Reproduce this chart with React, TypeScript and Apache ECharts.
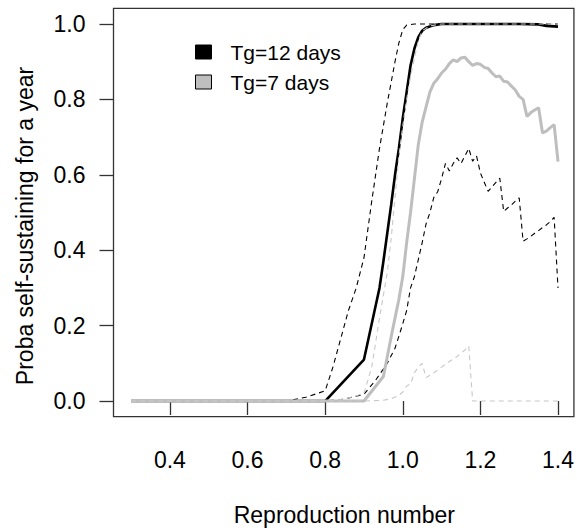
import React, { useEffect, useRef } from "react";
import * as echarts from "echarts";

// Reproduction number vs probability of self-sustaining for a year
const tg12Mean: [number, number][] = [
  [0.3, 0], [0.4, 0], [0.5, 0], [0.6, 0], [0.7, 0], [0.8, 0], [0.9, 0.11],
  [0.94, 0.3], [0.95, 0.37], [0.96, 0.445], [0.97, 0.52], [0.98, 0.6], [0.99, 0.67],
  [1.0, 0.75], [1.01, 0.82], [1.02, 0.89], [1.03, 0.935], [1.04, 0.965], [1.05, 0.982],
  [1.06, 0.99], [1.08, 0.997], [1.1, 1.0], [1.2, 1.0], [1.3, 1.0], [1.35, 0.999],
  [1.37, 0.995], [1.4, 0.993],
];
const tg12Upper: [number, number][] = [
  [0.3, 0], [0.7, 0], [0.75, 0.01], [0.8, 0.027], [0.82, 0.09], [0.84, 0.165],
  [0.86, 0.24], [0.88, 0.3], [0.9, 0.38], [0.92, 0.53], [0.94, 0.67], [0.96, 0.79],
  [0.98, 0.9], [0.99, 0.95], [1.0, 0.985], [1.01, 0.997], [1.03, 1.0], [1.4, 1.0],
];
const tg12Lower: [number, number][] = [
  [0.3, 0], [0.8, 0], [0.85, 0.005], [0.9, 0.018], [0.93, 0.055], [0.96, 0.1],
  [0.98, 0.14], [0.99, 0.172], [1.0, 0.205], [1.01, 0.24], [1.02, 0.3], [1.03, 0.33],
  [1.04, 0.375], [1.05, 0.42], [1.06, 0.47], [1.07, 0.5], [1.08, 0.54], [1.09, 0.555],
  [1.1, 0.59], [1.11, 0.63], [1.12, 0.61], [1.13, 0.63], [1.14, 0.645], [1.15, 0.63],
  [1.16, 0.65], [1.17, 0.67], [1.18, 0.636], [1.19, 0.65], [1.2, 0.605], [1.21, 0.58],
  [1.22, 0.556], [1.23, 0.568], [1.24, 0.58], [1.25, 0.591], [1.26, 0.503], [1.27, 0.512],
  [1.28, 0.52], [1.29, 0.53], [1.3, 0.539], [1.31, 0.424], [1.32, 0.43], [1.33, 0.437],
  [1.34, 0.445], [1.35, 0.452], [1.36, 0.46], [1.37, 0.467], [1.38, 0.476], [1.39, 0.487],
  [1.4, 0.3],
];
const tg7Mean: [number, number][] = [
  [0.3, 0], [0.4, 0], [0.5, 0], [0.6, 0], [0.7, 0], [0.8, 0], [0.9, 0], [0.95, 0.065],
  [0.97, 0.17], [0.99, 0.27], [1.0, 0.33], [1.01, 0.42], [1.02, 0.5], [1.03, 0.59],
  [1.04, 0.68], [1.05, 0.74], [1.06, 0.78], [1.07, 0.82], [1.08, 0.843], [1.09, 0.855],
  [1.1, 0.87], [1.11, 0.88], [1.12, 0.895], [1.13, 0.905], [1.14, 0.9], [1.15, 0.91],
  [1.16, 0.912], [1.17, 0.9], [1.18, 0.89], [1.19, 0.895], [1.2, 0.893], [1.21, 0.885],
  [1.22, 0.882], [1.23, 0.87], [1.24, 0.86], [1.25, 0.862], [1.26, 0.848], [1.27, 0.846],
  [1.28, 0.835], [1.29, 0.825], [1.3, 0.808], [1.31, 0.8], [1.32, 0.755], [1.33, 0.765],
  [1.34, 0.772], [1.35, 0.778], [1.36, 0.711], [1.37, 0.716], [1.38, 0.725], [1.39, 0.733],
  [1.4, 0.635],
];
const tg7Upper: [number, number][] = [
  [0.3, 0], [0.8, 0], [0.85, 0.005], [0.9, 0.02], [0.92, 0.09], [0.94, 0.22],
  [0.96, 0.34], [0.97, 0.43], [0.98, 0.54], [0.99, 0.65], [1.0, 0.73], [1.01, 0.8],
  [1.02, 0.86], [1.03, 0.91], [1.04, 0.955], [1.05, 0.982], [1.07, 0.995], [1.1, 1.0],
  [1.4, 1.0],
];
const tg7Lower: [number, number][] = [
  [0.3, 0], [0.9, 0], [0.95, 0.002], [0.97, 0.006], [0.99, 0.015], [1.0, 0.024],
  [1.01, 0.04], [1.02, 0.045], [1.03, 0.075], [1.04, 0.09], [1.05, 0.1], [1.06, 0.062],
  [1.08, 0.075], [1.1, 0.09], [1.12, 0.105], [1.14, 0.118], [1.16, 0.135], [1.17, 0.146],
  [1.18, 0], [1.4, 0],
];

const xTicks = [0.4, 0.6, 0.8, 1.0, 1.2, 1.4];
const yTicks = [0, 0.2, 0.4, 0.6, 0.8, 1.0];
const legendNames = ["Tg=12 days", "Tg=7 days"];
const xTitle = "Reproduction number";
const yTitle = "Proba self-sustaining for a year";

const FONT = "'Liberation Sans', Arial, Helvetica, sans-serif";
const AXIS = "#333333";
const GREY = "#bebebe";
const LIGHT = "#c8c8c8";

export default function App() {
  const ref = useRef<HTMLDivElement>(null);
  useEffect(() => {
    if (!ref.current) return;
    const chart = echarts.init(ref.current, null, { renderer: "svg" });
    const dashed = (data: [number, number][], color: string, name: string) => ({
      type: "line",
      name,
      data,
      showSymbol: false,
      symbol: "none",
      lineStyle: { color, width: 1.1, type: [5, 4] },
      itemStyle: { color },
      silent: true,
    });
    chart.setOption({
      animation: false,
      backgroundColor: "#ffffff",
      grid: {
        left: 113.5,
        right: 2,
        top: 8.3,
        bottom: 115.3,
        show: true,
        borderColor: AXIS,
        borderWidth: 1.3,
        backgroundColor: "transparent",
      },
      xAxis: {
        type: "value",
        min: 0.2546,
        max: 1.441,
        axisLine: { show: false },
        splitLine: { show: false },
        axisTick: {
          show: true,
          inside: false,
          length: 14,
          customValues: xTicks,
          lineStyle: { color: AXIS, width: 1.3 },
        },
        axisLabel: {
          customValues: xTicks,
          margin: 32,
          fontSize: 23,
          fontFamily: FONT,
          color: "#000",
          formatter: (v: number) => v.toFixed(1),
        },
      },
      yAxis: {
        type: "value",
        min: -0.0416,
        max: 1.0416,
        axisLine: { show: false },
        splitLine: { show: false },
        axisTick: {
          show: true,
          inside: false,
          length: 14,
          customValues: yTicks,
          lineStyle: { color: AXIS, width: 1.3 },
        },
        axisLabel: {
          customValues: yTicks,
          margin: 28,
          fontSize: 23,
          fontFamily: FONT,
          color: "#000",
          formatter: (v: number) => v.toFixed(1),
        },
      },
      legend: {
        data: legendNames,
        orient: "vertical",
        left: 190,
        top: 35,
        itemWidth: 16,
        itemHeight: 14,
        itemGap: 6,
        icon: "rect",
        selectedMode: false,
        itemStyle: { borderColor: "#000", borderWidth: 1 },
        textStyle: {
          fontSize: 21,
          fontFamily: FONT,
          color: "#000",
          lineHeight: 24,
          padding: [0, 0, 0, 14],
        },
      },
      graphic: [
        {
          type: "text",
          x: 344.3,
          y: 515,
          style: {
            text: xTitle,
            fontSize: 23,
            fontFamily: FONT,
            fill: "#000",
            align: "center",
            verticalAlign: "middle",
          },
        },
        {
          type: "text",
          x: 25,
          y: 226,
          rotation: Math.PI / 2,
          style: {
            text: yTitle,
            fontSize: 23,
            fontFamily: FONT,
            fill: "#000",
            align: "center",
            verticalAlign: "middle",
          },
        },
      ],
      series: [
        {
          type: "line",
          name: "Tg=12 days",
          data: tg12Mean,
          showSymbol: false,
          symbol: "none",
          lineStyle: { color: "#000", width: 2.6 },
          itemStyle: { color: "#000" },
          silent: true,
        },
        dashed(tg12Upper, "#000", "Tg12 upper"),
        dashed(tg12Lower, "#000", "Tg12 lower"),
        {
          type: "line",
          name: "Tg=7 days",
          data: tg7Mean,
          showSymbol: false,
          symbol: "none",
          lineStyle: { color: GREY, width: 3 },
          itemStyle: { color: GREY },
          silent: true,
        },
        dashed(tg7Upper, LIGHT, "Tg7 upper"),
        dashed(tg7Lower, LIGHT, "Tg7 lower"),
      ],
    });
    return () => chart.dispose();
  }, []);
  return (
    <div
      ref={ref}
      style={{ position: "fixed", left: 0, top: 0, width: 577, height: 532, background: "#fff" }}
    />
  );
}
